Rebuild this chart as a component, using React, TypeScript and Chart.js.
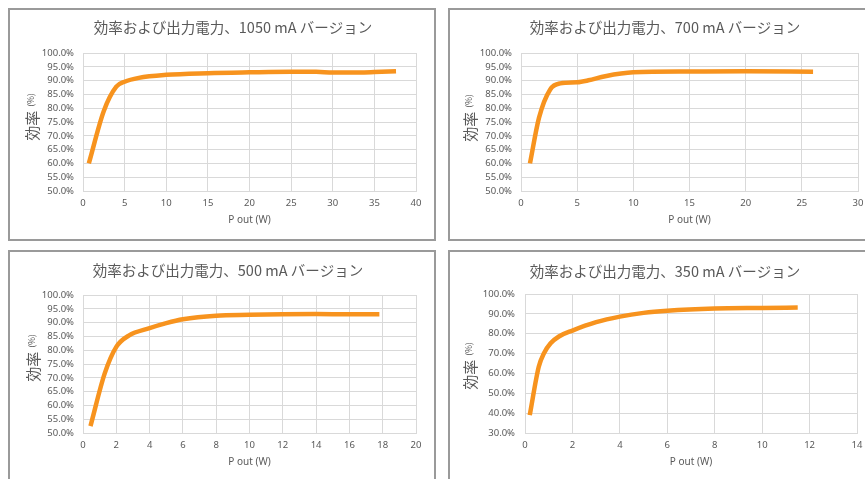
import { useEffect, useRef } from "react";
import { Chart, registerables } from "chart.js";

Chart.register(...registerables);

// ---- data ----
const title1050 = "効率および出力電力、1050 mA バージョン";
const pout1050 = [0.7, 2.5, 4.0, 5, 6.7, 10, 15, 20, 25, 28, 30, 32, 35, 37.6];
const eff1050 = [60.0, 79.0, 87.8, 89.6, 91.0, 92.1, 92.7, 93.0, 93.2, 93.2, 92.9, 92.9, 93.1, 93.4];

const title700 = "効率および出力電力、700 mA バージョン";
const pout700 = [0.8, 1.6, 2.6, 3.5, 5, 6, 7.5, 10, 15, 20, 26];
const eff700 = [60.0, 76.5, 86.8, 89.0, 89.4, 90.1, 91.6, 93.0, 93.3, 93.4, 93.2];

const title500 = "効率および出力電力、500 mA バージョン";
const pout500 = [0.45, 1.3, 2, 2.75, 4, 5, 6, 8, 10, 12, 14, 16, 17.8];
const eff500 = [52.5, 71.5, 81.2, 85.3, 88.0, 89.8, 91.2, 92.5, 92.8, 93.0, 93.1, 93.0, 93.0];

const title350 = "効率および出力電力、350 mA バージョン";
const pout350 = [0.2, 0.58, 0.8, 1.08, 1.43, 2, 3, 4, 5, 6, 8, 10, 11.5];
const eff350 = [39.0, 63.4, 70.2, 75.2, 78.6, 81.6, 85.8, 88.6, 90.5, 91.6, 92.7, 93.0, 93.2];

const xAxisTitle = "P out (W)";
const yAxisTitleMain = "効率";
const yAxisTitleUnit = "(%)";

const TEXT = "#595959";
const GRID = "#d9d9d9";
const LINE = "#F7931E";
const TICK_FONT = "'Noto Sans', 'Liberation Sans', sans-serif";
const CJK_FONT = "'Noto Sans CJK JP', 'Noto Sans', sans-serif";

type PanelProps = {
  left: number;
  top: number;
  title: string;
  xs: number[];
  ys: number[];
  xMax: number;
  xStep: number;
  yMin: number;
  yMax: number;
  yStep: number;
  yWidth: number;
  rightPad: number;
  topPad: number;
  yTickPad: number;
  titleX: number;
  titleY: number;
  yTitleX: number;
  yTitleY: number;
};

const CW = 424;
const CH = 229;

function Panel(p: PanelProps) {
  const ref = useRef<HTMLCanvasElement | null>(null);
  useEffect(() => {
    if (!ref.current) return;
    const textPlugin = {
      id: "panelText",
      afterDraw(chart: any) {
        const ctx = chart.ctx as CanvasRenderingContext2D;
        ctx.save();
        ctx.fillStyle = TEXT;
        ctx.font = `14.5px ${CJK_FONT}`;
        ctx.textAlign = "center";
        ctx.textBaseline = "middle";
        ctx.fillText(p.title, p.titleX, p.titleY);
        ctx.restore();

        ctx.save();
        ctx.fillStyle = TEXT;
        ctx.translate(p.yTitleX, p.yTitleY);
        ctx.rotate(-Math.PI / 2);
        ctx.textBaseline = "middle";
        ctx.textAlign = "left";
        const big = `15px ${CJK_FONT}`;
        const small = `8.5px ${CJK_FONT}`;
        ctx.font = big;
        const w1 = ctx.measureText(yAxisTitleMain).width;
        ctx.font = small;
        const w2 = ctx.measureText(yAxisTitleUnit).width;
        const gap = 4;
        const start = -(w1 + gap + w2) / 2;
        ctx.font = big;
        ctx.fillText(yAxisTitleMain, start, 0);
        ctx.font = small;
        ctx.fillText(yAxisTitleUnit, start + w1 + gap, -1);
        ctx.restore();
      },
    };

    const chart = new Chart(ref.current, {
      type: "scatter",
      data: {
        datasets: [
          {
            data: p.xs.map((x, i) => ({ x, y: p.ys[i] })),
            showLine: true,
            borderColor: LINE,
            backgroundColor: LINE,
            borderWidth: 4.5,
            pointRadius: 0,
            cubicInterpolationMode: "monotone",
            borderCapStyle: "butt",
            borderJoinStyle: "round",
          } as any,
        ],
      },
      options: {
        responsive: false,
        animation: false,
        devicePixelRatio: 1,
        layout: { padding: { left: 0, right: p.rightPad, top: p.topPad, bottom: 13 } },
        plugins: {
          legend: { display: false },
          tooltip: { enabled: false },
          title: { display: false },
        },
        scales: {
          x: {
            type: "linear",
            min: 0,
            max: p.xMax,
            ticks: {
              stepSize: p.xStep,
              padding: 7,
              color: TEXT,
              font: { family: TICK_FONT, size: 9.5 },
              maxRotation: 0,
              autoSkip: false,
            },
            grid: { color: GRID, drawTicks: false, lineWidth: 1 },
            border: { color: GRID },
            title: {
              display: true,
              text: xAxisTitle,
              color: TEXT,
              font: { family: TICK_FONT, size: 10 },
              padding: { top: 0, bottom: 0 },
            },
            afterFit: (s: any) => {
              s.height = 35;
            },
          },
          y: {
            type: "linear",
            min: p.yMin,
            max: p.yMax,
            ticks: {
              stepSize: p.yStep,
              padding: p.yTickPad,
              color: TEXT,
              autoSkip: false,
              font: { family: TICK_FONT, size: 9.5 },
              callback: (v: any) => Number(v).toFixed(1) + "%",
            },
            grid: { color: GRID, drawTicks: false, lineWidth: 1 },
            border: { color: GRID },
            afterFit: (s: any) => {
              s.width = p.yWidth;
            },
          },
        },
      } as any,
      plugins: [textPlugin],
    });
    return () => chart.destroy();
  }, []);

  return (
    <div
      style={{
        position: "absolute",
        left: p.left,
        top: p.top,
        width: CW,
        height: CH,
        border: "2px solid #9a9a9a",
        background: "#fff",
      }}
    >
      <canvas ref={ref} width={CW} height={CH} style={{ display: "block", width: CW, height: CH }} />
    </div>
  );
}

export default function App() {
  return (
    <div
      style={{
        position: "fixed",
        left: 0,
        top: 0,
        width: 865,
        height: 479,
        overflow: "hidden",
        background: "#fff",
      }}
    >
      <Panel
        left={8}
        top={8}
        title={title1050}
        xs={pout1050}
        ys={eff1050}
        xMax={40}
        xStep={5}
        yMin={50}
        yMax={100}
        yStep={5}
        yWidth={73}
        rightPad={18}
        topPad={43}
        yTickPad={9}
        titleX={223}
        titleY={17}
        yTitleX={22}
        yTitleY={107}
      />
      <Panel
        left={448}
        top={8}
        title={title700}
        xs={pout700}
        ys={eff700}
        xMax={30}
        xStep={5}
        yMin={50}
        yMax={100}
        yStep={5}
        yWidth={71}
        rightPad={16}
        topPad={43}
        yTickPad={9}
        titleX={215}
        titleY={17}
        yTitleX={20}
        yTitleY={108}
      />
      <Panel
        left={8}
        top={250}
        title={title500}
        xs={pout500}
        ys={eff500}
        xMax={20}
        xStep={2}
        yMin={50}
        yMax={100}
        yStep={5}
        yWidth={73}
        rightPad={18}
        topPad={43}
        yTickPad={9}
        titleX={218}
        titleY={18}
        yTitleX={23}
        yTitleY={106}
      />
      <Panel
        left={448}
        top={250}
        title={title350}
        xs={pout350}
        ys={eff350}
        xMax={14}
        xStep={2}
        yMin={30}
        yMax={100}
        yStep={10}
        yWidth={75}
        rightPad={17}
        topPad={42}
        yTickPad={10}
        titleX={215}
        titleY={19}
        yTitleX={20}
        yTitleY={114}
      />
    </div>
  );
}
